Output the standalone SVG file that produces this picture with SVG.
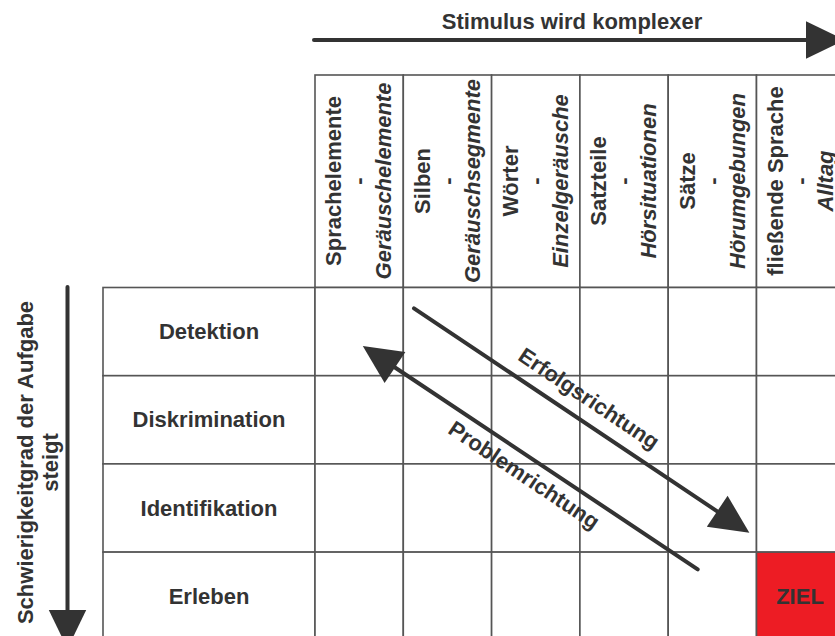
<svg xmlns="http://www.w3.org/2000/svg" width="835" height="636" viewBox="0 0 835 636">
<defs>
<style>
.t{font-family:"Liberation Sans",Arial,sans-serif;font-weight:bold;font-size:22px;fill:#333333}
.i{font-style:italic}
.c{fill:#ffffff;stroke:#555555;stroke-width:1.6}
.a{fill:none;stroke:#333333;stroke-width:4;stroke-linecap:round}
</style>
<marker id="ah" markerUnits="userSpaceOnUse" markerWidth="40" markerHeight="40" viewBox="0 -15 31 30" refX="0" refY="0" orient="auto" overflow="visible">
<path d="M0,-14.5 L30,0 L0,14.5 z" fill="#333333"/>
</marker>
</defs>
<rect width="835" height="636" fill="#ffffff"/>

<g id="header">
<g id="col1"><rect class="c" x="315" y="75" width="88.3" height="212.5"/>
<g transform="translate(359.2,181) rotate(-90)"><text class="t" text-anchor="middle" y="-17.8">Sprachelemente</text><text class="t" text-anchor="middle" y="7.2">-</text><text class="t i" text-anchor="middle" y="32.2">Geräuschelemente</text></g></g>
<g id="col2"><rect class="c" x="403.3" y="75" width="88.3" height="212.5"/>
<g transform="translate(447.5,181) rotate(-90)"><text class="t" text-anchor="middle" y="-17.8">Silben</text><text class="t" text-anchor="middle" y="7.2">-</text><text class="t i" text-anchor="middle" y="32.2">Geräuschsegmente</text></g></g>
<g id="col3"><rect class="c" x="491.6" y="75" width="88.3" height="212.5"/>
<g transform="translate(535.8,181) rotate(-90)"><text class="t" text-anchor="middle" y="-17.8">Wörter</text><text class="t" text-anchor="middle" y="7.2">-</text><text class="t i" text-anchor="middle" y="32.2">Einzelgeräusche</text></g></g>
<g id="col4"><rect class="c" x="579.9" y="75" width="88.3" height="212.5"/>
<g transform="translate(624.1,181) rotate(-90)"><text class="t" text-anchor="middle" y="-17.8">Satzteile</text><text class="t" text-anchor="middle" y="7.2">-</text><text class="t i" text-anchor="middle" y="32.2">Hörsituationen</text></g></g>
<g id="col5"><rect class="c" x="668.2" y="75" width="88.3" height="212.5"/>
<g transform="translate(712.4,181) rotate(-90)"><text class="t" text-anchor="middle" y="-17.8">Sätze</text><text class="t" text-anchor="middle" y="7.2">-</text><text class="t i" text-anchor="middle" y="32.2">Hörumgebungen</text></g></g>
<g id="col6"><rect class="c" x="756.5" y="75" width="88.3" height="212.5"/>
<g transform="translate(800.7,181) rotate(-90)"><text class="t" text-anchor="middle" y="-17.8">fließende Sprache</text><text class="t" text-anchor="middle" y="7.2">-</text><text class="t i" text-anchor="middle" y="32.2">Alltag</text></g></g>
</g>

<g id="rows">
<g id="row1"><rect class="c" x="103" y="287.5" width="212" height="88.2"/><text class="t" x="209" y="339.2" text-anchor="middle">Detektion</text></g>
<g id="row2"><rect class="c" x="103" y="375.7" width="212" height="88.2"/><text class="t" x="209" y="427.4" text-anchor="middle">Diskrimination</text></g>
<g id="row3"><rect class="c" x="103" y="463.9" width="212" height="88.2"/><text class="t" x="209" y="515.6" text-anchor="middle">Identifikation</text></g>
<g id="row4"><rect class="c" x="103" y="552.1" width="212" height="88.2"/><text class="t" x="209" y="603.6" text-anchor="middle">Erleben</text></g>
</g>

<g id="cells">
<rect class="c" x="315" y="287.5" width="88.3" height="88.2"/><rect class="c" x="403.3" y="287.5" width="88.3" height="88.2"/><rect class="c" x="491.6" y="287.5" width="88.3" height="88.2"/><rect class="c" x="579.9" y="287.5" width="88.3" height="88.2"/><rect class="c" x="668.2" y="287.5" width="88.3" height="88.2"/><rect class="c" x="756.5" y="287.5" width="88.3" height="88.2"/>
<rect class="c" x="315" y="375.7" width="88.3" height="88.2"/><rect class="c" x="403.3" y="375.7" width="88.3" height="88.2"/><rect class="c" x="491.6" y="375.7" width="88.3" height="88.2"/><rect class="c" x="579.9" y="375.7" width="88.3" height="88.2"/><rect class="c" x="668.2" y="375.7" width="88.3" height="88.2"/><rect class="c" x="756.5" y="375.7" width="88.3" height="88.2"/>
<rect class="c" x="315" y="463.9" width="88.3" height="88.2"/><rect class="c" x="403.3" y="463.9" width="88.3" height="88.2"/><rect class="c" x="491.6" y="463.9" width="88.3" height="88.2"/><rect class="c" x="579.9" y="463.9" width="88.3" height="88.2"/><rect class="c" x="668.2" y="463.9" width="88.3" height="88.2"/><rect class="c" x="756.5" y="463.9" width="88.3" height="88.2"/>
<rect class="c" x="315" y="552.1" width="88.3" height="88.2"/><rect class="c" x="403.3" y="552.1" width="88.3" height="88.2"/><rect class="c" x="491.6" y="552.1" width="88.3" height="88.2"/><rect class="c" x="579.9" y="552.1" width="88.3" height="88.2"/><rect class="c" x="668.2" y="552.1" width="88.3" height="88.2"/>
</g>

<g id="ziel"><rect x="756.5" y="552.1" width="88.3" height="88.2" fill="#ed1c24" stroke="#555555" stroke-width="1.6"/><text class="t" x="800" y="603.6" text-anchor="middle">ZIEL</text></g>

<g id="axis-labels">
<text class="t" x="572" y="28.5" text-anchor="middle">Stimulus wird komplexer</text>
<g transform="translate(0,462.5) rotate(-90)"><text class="t" text-anchor="middle" y="33">Schwierigkeitgrad der Aufgabe</text><text class="t" text-anchor="middle" y="58">steigt</text></g>
</g>

<g id="connectors">
<line class="a" x1="314" y1="40" x2="806" y2="40" marker-end="url(#ah)"/>
<line class="a" x1="67.5" y1="287" x2="67.5" y2="610" marker-end="url(#ah)"/>
<line class="a" x1="414" y1="308.3" x2="717.2" y2="511.3" marker-end="url(#ah)"/>
<line class="a" x1="697.7" y1="569.3" x2="395" y2="367.5" marker-end="url(#ah)"/>
<g transform="translate(576.8,416.9) rotate(33.74)"><text class="t" text-anchor="middle" y="-14.5">Erfolgsrichtung</text></g>
<g transform="translate(534.2,460.2) rotate(33.74)"><text class="t" text-anchor="middle" y="25.5">Problemrichtung</text></g>
</g>
</svg>
